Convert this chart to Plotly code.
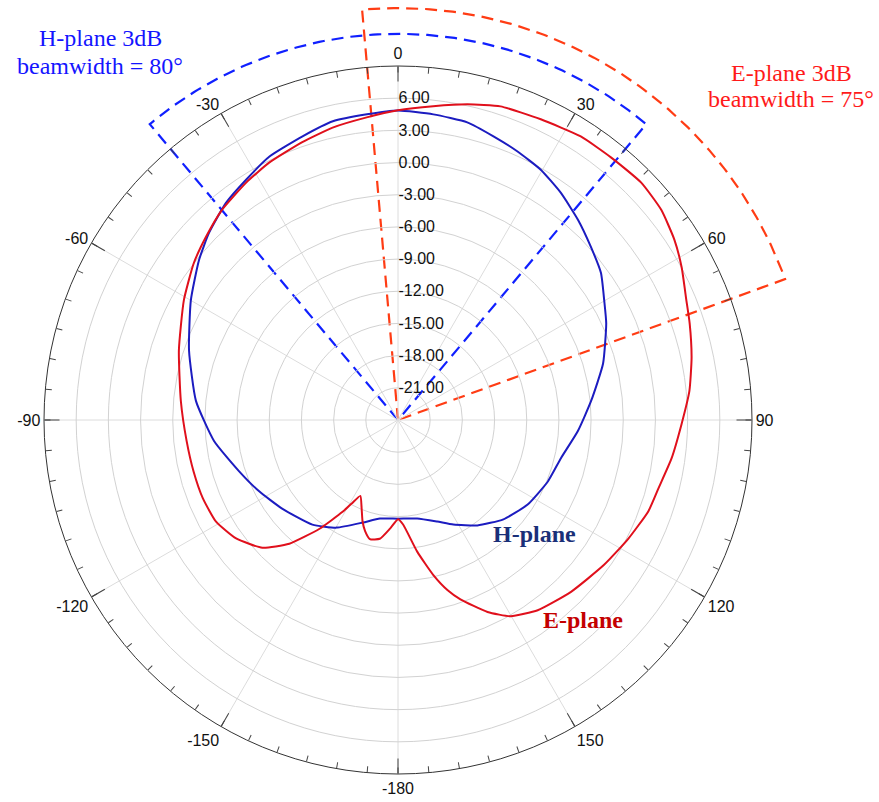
import numpy as np
import plotly.graph_objects as go

# ---- measured radiation patterns: angle (deg, clockwise from boresight) and gain (dB)
e_theta = [-180, -175.8, -171.3, -166.7, -163.5, -160.7, -157.6, -153.6, -151, -148.9,
           -144.2, -138.7, -133.3, -126.2, -119.2, -111.8, -104.2, -95.7, -85, -72.4,
           -60.8, -52.5, -46.4, -40, -32.6, -26.6, -19, -12.6, -5.9, 0,
           6.4, 12.4, 18.1, 25.4, 32.8, 39.1, 45.7, 51.4, 56.9, 61.7,
           67.5, 71.7, 78, 84.3, 90.8, 98, 104.7, 110, 117.3, 125.1,
           134.8, 143.7, 150.1, 155, 160.8, 163.8, 167.2, 171.7, 177.2, 180]
e_gain = [-14.75, -13.85, -12.8, -12.6, -13.2, -14.0, -15.1, -16.1, -15.1, -14.0,
          -11.5, -8.65, -6.63, -5.3, -4.57, -4.4, -4.35, -4.2, -3.68, -2.57,
          -1.13, 0.0, 0.73, 1.55, 2.27, 2.83, 3.4, 3.93, 4.36, 4.87,
          5.43, 6.13, 6.76, 7.03, 7.45, 7.52, 7.68, 7.4, 6.76, 6.03,
          5.1, 4.64, 3.98, 3.3, 2.44, 1.75, 1.1, 0.84, 0.15, -0.52,
          -1.27, -2.0, -2.9, -4.25, -6.3, -7.5, -9.2, -11.6, -14.25, -14.75]

h_theta = [-180, -169.6, -161.1, -150.3, -140.7, -127.4, -117.2, -107.9, -96.5, -84.6,
           -71.6, -60, -51.2, -45.3, -38.4, -32.3, -26, -18.6, -12.3, -5.8,
           0, 6.6, 13.1, 18.6, 24, 29.7, 35.6, 42, 48.1, 54.1,
           59.9, 65.1, 74.6, 84.3, 93.5, 103.2, 112.3, 123.1, 133.3, 143,
           152.1, 158.9, 169, 180]
h_gain = [-14.8, -14.66, -13.9, -12.45, -11.4, -10.4, -9.45, -8.44, -6.74, -5.08,
          -3.47, -1.7, -0.2, 0.79, 1.82, 2.5, 3.33, 3.9, 4.5, 4.64,
          4.85, 4.68, 4.49, 3.9, 3.4, 2.86, 2.06, 1.09, 0.16, -0.64,
          -1.78, -2.6, -4.17, -5.9, -7.2, -8.4, -8.9, -9.57, -10.5, -11.7,
          -12.97, -13.85, -14.65, -14.8]

# ---- axes
r_range = [-24, 9]
r_ticks = [-21, -18, -15, -12, -9, -6, -3, 0, 3, 6]
r_labels = [f"{v:.2f}" for v in r_ticks]
angle_ticks = list(range(0, 360, 30))
angle_labels = ["0", "30", "60", "90", "120", "150", "-180", "-150", "-120", "-90", "-60", "-30"]
minor_ticks = list(range(0, 360, 5))

# ---- 3 dB beamwidth sectors: (start angle, end angle, arc radius in dB above centre)
h_sector = (-40, 40, 36.0)
e_sector = (-5, 70, 38.4)

# ---- page geometry (pixels)
W, H = 879, 802
CX, CY, R = 398, 420, 354
px_per_db = R / (r_range[1] - r_range[0])

dom_x = [(CX - R) / W, (CX + R) / W]
dom_y = [1 - (CY + R) / H, 1 - (CY - R) / H]

fig = go.Figure()


def sector_xy(a0, a1, rad):
    arc = np.linspace(a0, a1, 120)
    ang = np.radians(np.concatenate([[a0], arc, [a1]]))
    rr = np.concatenate([[0], np.full(arc.size, rad), [0]])
    return rr * np.sin(ang), rr * np.cos(ang)


for (a0, a1, rad), col in [(h_sector, "#1020ff"), (e_sector, "#ff3c14")]:
    sx, sy = sector_xy(a0, a1, rad)
    fig.add_trace(go.Scatter(x=sx, y=sy, mode="lines", xaxis="x", yaxis="y",
                             line=dict(color=col, width=2.2, dash="12px,7px"),
                             hoverinfo="skip", showlegend=False))

fig.add_trace(go.Scatterpolar(r=h_gain, theta=h_theta, mode="lines", subplot="polar",
                              line=dict(color="#1c1cc0", width=2, shape="spline", smoothing=0.5),
                              showlegend=False, name="H-plane"))
fig.add_trace(go.Scatterpolar(r=e_gain, theta=e_theta, mode="lines", subplot="polar",
                              line=dict(color="#e0101c", width=2, shape="spline", smoothing=0.5),
                              showlegend=False, name="E-plane"))
# carrier for the minor tick ring
fig.add_trace(go.Scatterpolar(r=[r_range[0]], theta=[0], mode="markers", subplot="polar2",
                              marker=dict(size=0.1, opacity=0), showlegend=False, hoverinfo="skip"))

tick_font = dict(family="Liberation Sans, Arial, sans-serif", size=16, color="#111111")
serif = "Liberation Serif, Times New Roman, serif"


def label(text, x, y, size, color):
    return dict(text=text, x=x / W, y=1 - y / H, xref="paper", yref="paper",
                xanchor="center", yanchor="middle", showarrow=False,
                font=dict(family=serif, size=size, color=color))


fig.update_layout(
    width=W, height=H,
    margin=dict(l=0, r=0, t=0, b=0),
    paper_bgcolor="white", plot_bgcolor="rgba(0,0,0,0)",
    xaxis=dict(domain=[0, 1], range=[-CX / px_per_db, (W - CX) / px_per_db], visible=False, fixedrange=True),
    yaxis=dict(domain=[0, 1], range=[-(H - CY) / px_per_db, CY / px_per_db], visible=False, fixedrange=True),
    polar=dict(
        domain=dict(x=dom_x, y=dom_y),
        bgcolor="rgba(0,0,0,0)",
        angularaxis=dict(rotation=90, direction="clockwise", tickmode="array",
                         tickvals=angle_ticks, ticktext=angle_labels,
                         ticks="inside", ticklen=15, tickwidth=1, tickcolor="#444444",
                         showline=True, linecolor="#333333", linewidth=1,
                         showgrid=True, gridcolor="#dcdcdc", gridwidth=1,
                         tickfont=tick_font),
        radialaxis=dict(range=r_range, tickmode="array", tickvals=r_ticks, ticktext=r_labels,
                        angle=90, tickangle=90, side="clockwise",
                        showline=False, ticks="", showgrid=True,
                        gridcolor="#d2d2d2", gridwidth=1, tickfont=tick_font),
    ),
    polar2=dict(
        domain=dict(x=dom_x, y=dom_y),
        bgcolor="rgba(0,0,0,0)",
        angularaxis=dict(rotation=90, direction="clockwise", tickmode="array",
                         tickvals=minor_ticks, ticks="inside", ticklen=6, tickwidth=1,
                         tickcolor="#444444", showticklabels=False,
                         showline=False, showgrid=False),
        radialaxis=dict(range=r_range, visible=False),
    ),
    annotations=[
        label("H-plane 3dB", 100, 38, 24, "#1414ff"),
        label("beamwidth = 80°", 100, 66, 24, "#1414ff"),
        label("E-plane 3dB", 791, 73, 24, "#ff1a1a"),
        label("beamwidth = 75°", 791, 99, 24, "#ff1a1a"),
        label("<b>H-plane</b>", 534, 534, 24, "#1a2f78"),
        label("<b>E-plane</b>", 583, 620, 24, "#c40000"),
    ],
)

fig.write_html("out.html")
